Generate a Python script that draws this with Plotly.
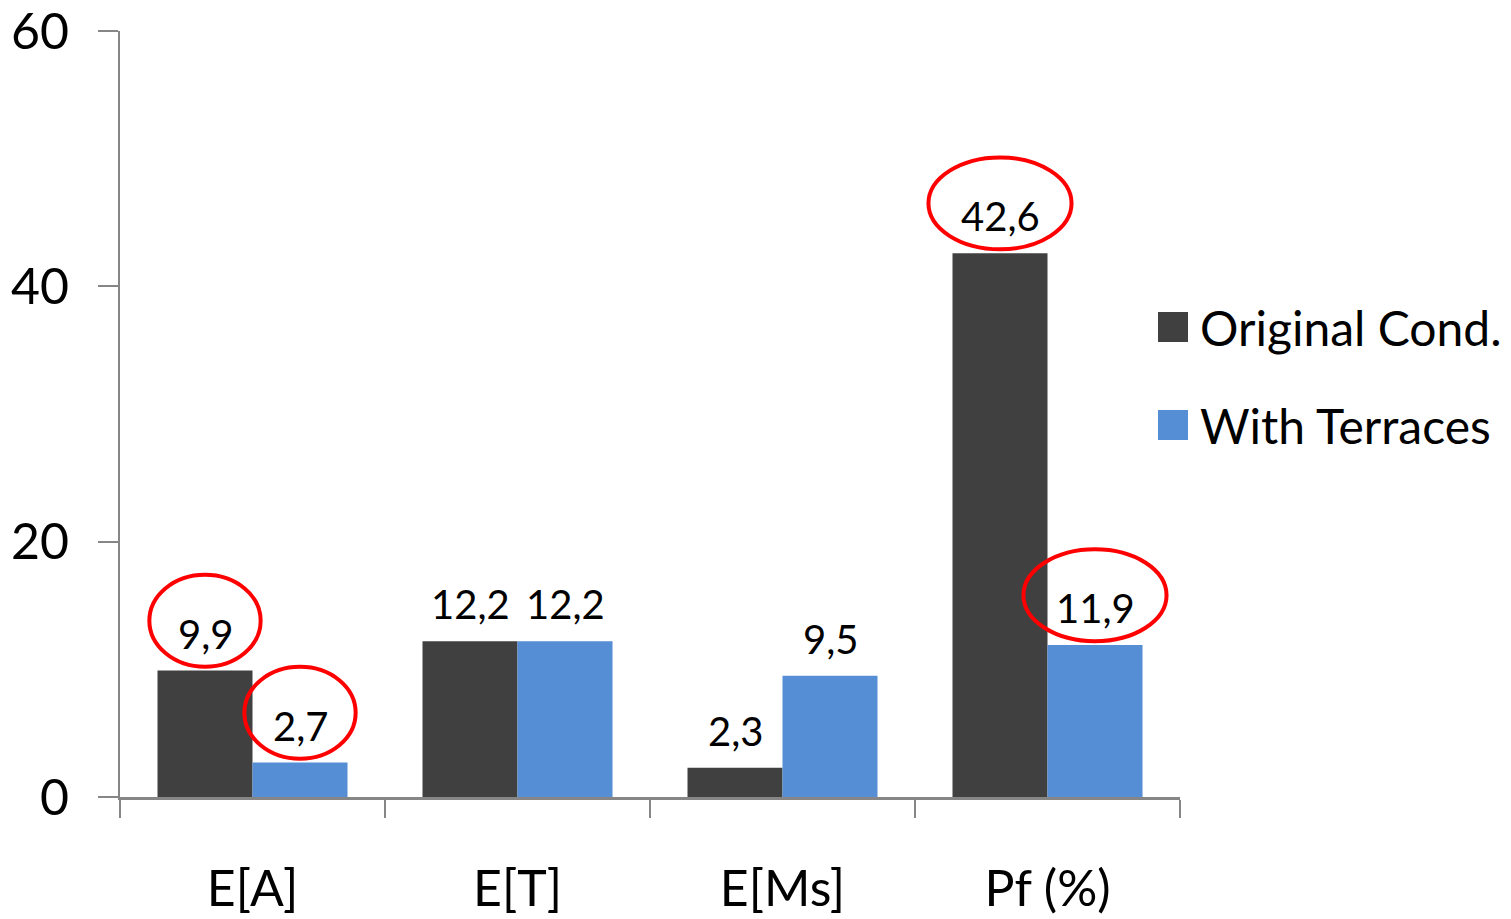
import plotly.graph_objects as go

# Data
categories = ["E[A]", "E[T]", "E[Ms]", "Pf (%)"]
series_names = ["Original Cond.", "With Terraces"]
original_vals = [9.9, 12.2, 2.3, 42.6]
terraces_vals = [2.7, 12.2, 9.5, 11.9]
y_ticks = [0, 20, 40, 60]

colors = ["#404040", "#558ED5"]
FONT = "Lato"
BARGAP = 0.283
bar_w = (1 - BARGAP) / 2

def fmt(v):
    return f"{v:.1f}".replace(".", ",")

fig = go.Figure()
all_vals = [original_vals, terraces_vals]
for si, (name, vals, col) in enumerate(zip(series_names, all_vals, colors)):
    fig.add_trace(go.Bar(
        x=categories, y=vals, name=name, marker_color=col,
        marker_line_width=0, showlegend=False,
    ))
    # value labels above each bar
    for ci, v in enumerate(vals):
        fig.add_annotation(x=ci + (-0.5 + si) * bar_w, y=v, xref="x", yref="y",
                           text=fmt(v), showarrow=False, yanchor="middle", yshift=37,
                           font=dict(family=FONT, size=40, color="black"))

# Highlight ellipses around selected labels: (category index, series index)
highlights = [(0, 0), (0, 1), (3, 0), (3, 1)]
for ci, si in highlights:
    v = all_vals[si][ci]
    xc = ci + (-0.5 + si) * bar_w
    yc = v + 3.9
    hw = 0.21 + (0.06 if ci == 3 else 0)
    fig.add_shape(type="circle", xref="x", yref="y",
                  x0=xc - hw, x1=xc + hw, y0=yc - 3.6, y1=yc + 3.6,
                  line=dict(color="#FF0000", width=4), layer="above")

# Legend drawn as squares plus labels
for i, (name, col) in enumerate(zip(series_names, colors)):
    yc = 327 + i * 98
    fig.add_shape(type="rect", xref="paper", yref="paper",
                  x0=(1158 - 120) / 1060, x1=(1188 - 120) / 1060,
                  y0=(797 - yc - 15) / 766, y1=(797 - yc + 15) / 766,
                  fillcolor=col, line_width=0)
    fig.add_annotation(xref="paper", yref="paper",
                       x=(1198 - 120) / 1060, y=(797 - yc) / 766,
                       xanchor="left", yanchor="middle", text=name, showarrow=False,
                       font=dict(family=FONT, size=48, color="black"))

fig.update_layout(
    width=1511, height=919,
    margin=dict(l=120, r=331, t=31, b=122, autoexpand=False),
    paper_bgcolor="white", plot_bgcolor="white",
    barmode="group", bargap=BARGAP, bargroupgap=0,
    showlegend=False,
    font=dict(family=FONT, color="black"),
)
fig.update_xaxes(
    showline=True, linecolor="#868686", linewidth=3,
    ticks="outside", tickson="boundaries", ticklen=18, tickwidth=2, tickcolor="#868686",
    tickfont=dict(family=FONT, size=50, color="black"),
    ticklabelstandoff=46, showgrid=False, automargin=False,
    ticklabeloverflow="allow",
)
fig.update_yaxes(
    range=[0, 60], tickvals=y_ticks,
    showline=True, linecolor="#868686", linewidth=2,
    ticks="outside", ticklen=20, tickwidth=2, tickcolor="#868686",
    tickfont=dict(family=FONT, size=50, color="black"),
    ticklabelstandoff=19, showgrid=False, zeroline=False, automargin=False,
    ticklabeloverflow="allow",
)

fig.write_html("out.html")
